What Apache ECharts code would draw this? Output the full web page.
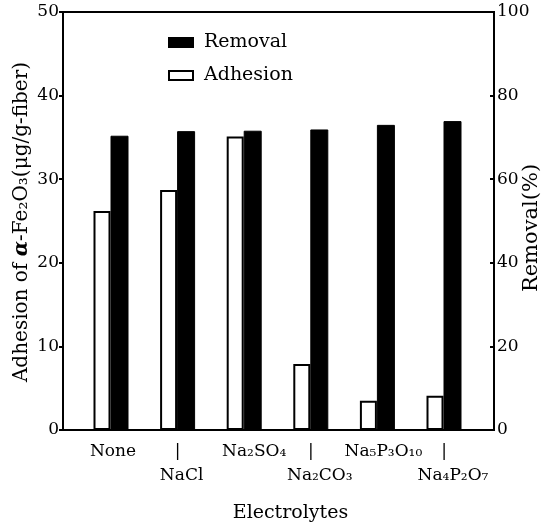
<!DOCTYPE html>
<html>
<head>
<meta charset="utf-8">
<script src="https://cdn.jsdelivr.net/npm/echarts@6/dist/echarts.min.js"></script>
<style>
html,body{margin:0;padding:0;background:#fff;}
#chart{width:551px;height:524px;}
</style>
</head>
<body>
<div id="chart"></div>
<script>
const categories = ['None', 'NaCl', 'Na\u2082SO\u2084', 'Na\u2082CO\u2083', 'Na\u2085P\u2083O\u2081\u2080', 'Na\u2084P\u2082O\u2087'];
const adhesion = [26.2, 28.7, 35.1, 7.9, 3.5, 4.1];
const removal = [70.4, 71.5, 71.6, 71.9, 73.0, 73.9];
const leftTicks = [0, 10, 20, 30, 40, 50];
const rightTicks = [0, 20, 40, 60, 80, 100];
const leftTitle = 'Adhesion of ';
const leftTitleGreek = '\u03b1';
const leftTitleRest = '-Fe\u2082O\u2083(\u03bcg/g-fiber)';
const rightTitle = 'Removal(%)';

const FONT = '"DejaVu Serif", "Liberation Serif", serif';
// horizontal nudge of each category label (style only)
const labelNudge = [2, 4, 10, 9, 6, 9];
const labelRich = {};
labelNudge.forEach(function (d, i) {
  labelRich['s' + i] = {fontFamily: FONT, fontSize: 17, color: '#000', lineHeight: 24, padding: [0, 0, 0, 2 * d]};
});
labelRich.bar = {fontFamily: FONT, fontSize: 17, color: '#000', lineHeight: 24};

const chart = echarts.init(document.getElementById('chart'), null, {renderer: 'canvas'});

const option = {
  backgroundColor: '#fff',
  animation: false,
  textStyle: {fontFamily: FONT, color: '#000'},
  legend: {
    orient: 'vertical',
    left: 163,
    top: 28,
    itemWidth: 24,
    itemHeight: 9,
    itemGap: 14,
    icon: 'rect',
    data: ['Removal', 'Adhesion'],
    textStyle: {fontFamily: FONT, fontSize: 19, color: '#000', padding: [0, 0, 0, 6]}
  },
  grid: [
    {left: 63, right: 57, top: 12, bottom: 94, show: true, borderColor: '#000', borderWidth: 2,
     backgroundColor: 'transparent', containLabel: false, outerBoundsMode: 'none'},
    {left: 77.7, right: 73.7, top: 12, bottom: 94, containLabel: false, outerBoundsMode: 'none'}
  ],
  graphic: [
    {
      type: 'text', x: 22, y: 222, rotation: Math.PI / 2,
      style: {
        text: '{n|' + leftTitle + '}{a|' + leftTitleGreek + '}{n|' + leftTitleRest + '}',
        align: 'center', verticalAlign: 'middle',
        rich: {
          n: {fontFamily: FONT, fontSize: 20, fill: '#000'},
          a: {fontFamily: FONT, fontSize: 20, fill: '#000', fontStyle: 'italic', fontWeight: 'bold'}
        }
      }
    },
    {
      type: 'text', x: 532, y: 228, rotation: Math.PI / 2,
      style: {text: rightTitle, fontFamily: FONT, fontSize: 21, fill: '#000', align: 'center', verticalAlign: 'middle'}
    }
  ],
  xAxis: [
    {type: 'category', gridIndex: 0, data: categories, show: false},
    {
      type: 'category', gridIndex: 1, data: categories,
      axisLine: {show: false}, axisTick: {show: false},
      axisLabel: {
        interval: 0, margin: 10, fontFamily: FONT, fontSize: 17, color: '#000', lineHeight: 24,
        formatter: function (v, i) {
          return i % 2 ? '{bar||}\n{s' + i + '|' + v + '}' : '{s' + i + '|' + v + '}';
        },
        rich: labelRich
      },
      name: 'Electrolytes', nameLocation: 'middle', nameGap: 74,
      nameTextStyle: {fontFamily: FONT, fontSize: 19, color: '#000', padding: [0, 0, 0, 26]}
    }
  ],
  yAxis: [
    {
      type: 'value', gridIndex: 0, position: 'left', min: 0, max: 50, interval: 10,
      axisLine: {show: true, lineStyle: {color: '#000', width: 2}},
      axisTick: {show: true, length: 4, lineStyle: {color: '#000', width: 2}},
      splitLine: {show: false},
      axisLabel: {fontFamily: FONT, fontSize: 17, color: '#000', margin: 4,
        formatter: function (v) { return leftTicks.indexOf(v) >= 0 ? String(v) : ''; }}
    },
    {
      type: 'value', gridIndex: 0, position: 'right', min: 0, max: 100, interval: 20,
      axisLine: {show: true, lineStyle: {color: '#000', width: 2}},
      axisTick: {show: true, inside: true, length: 4, lineStyle: {color: '#000', width: 2}},
      splitLine: {show: false},
      axisLabel: {fontFamily: FONT, fontSize: 17, color: '#000', margin: 3,
        formatter: function (v) { return rightTicks.indexOf(v) >= 0 ? String(v) : ''; }}
    },
    {type: 'value', gridIndex: 1, min: 0, max: 50, interval: 10, show: false},
    {type: 'value', gridIndex: 1, min: 0, max: 100, interval: 20, show: false}
  ],
  series: [
    {
      name: 'Adhesion', type: 'bar', xAxisIndex: 1, yAxisIndex: 2, data: adhesion,
      barWidth: 17, barGap: '0%',
      itemStyle: {color: '#fff', borderColor: '#000', borderWidth: 2}
    },
    {
      name: 'Removal', type: 'bar', xAxisIndex: 1, yAxisIndex: 3, data: removal,
      barWidth: 18, barGap: '0%',
      itemStyle: {color: '#000', borderColor: '#000', borderWidth: 1}
    }
  ]
};
chart.setOption(option);
</script>
</body>
</html>
